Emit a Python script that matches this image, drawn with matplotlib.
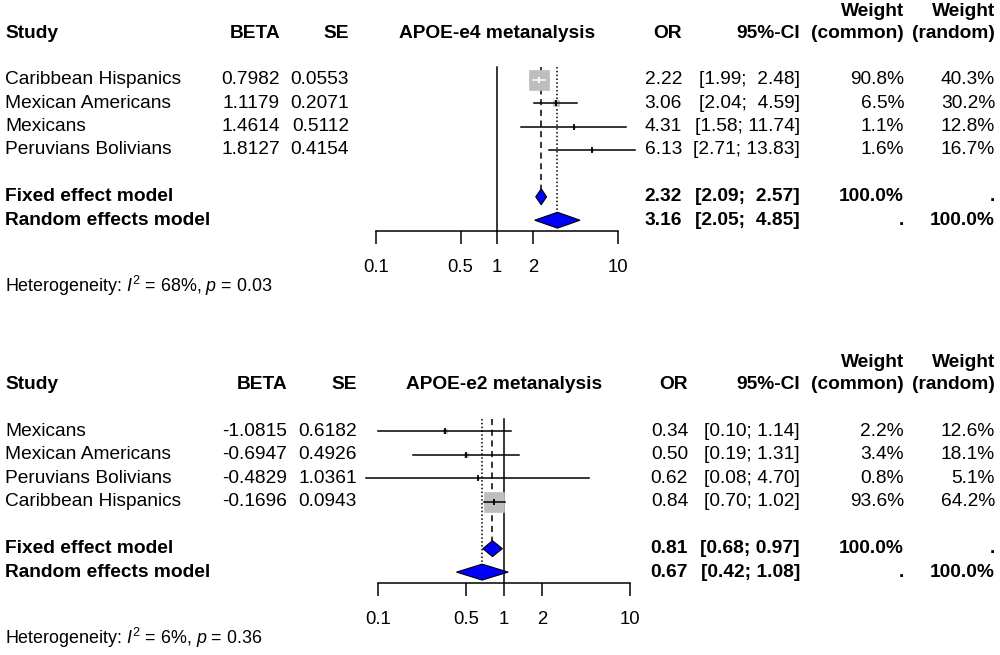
import numpy as np
import matplotlib
matplotlib.use('Agg')
import matplotlib.pyplot as plt
from matplotlib import transforms
from matplotlib.patches import Polygon
from matplotlib.ticker import NullLocator, FixedLocator

plt.rcParams['font.family'] = 'Liberation Sans'
plt.rcParams['mathtext.fontset'] = 'custom'
plt.rcParams['mathtext.rm'] = 'Liberation Sans'
plt.rcParams['mathtext.it'] = 'Liberation Sans:italic'
plt.rcParams['mathtext.bf'] = 'Liberation Sans:bold'

# APOE-e4 panel
e4_studies = ['Caribbean Hispanics', 'Mexican Americans', 'Mexicans', 'Peruvians Bolivians']
e4_beta = [0.7982, 1.1179, 1.4614, 1.8127]
e4_se = [0.0553, 0.2071, 0.5112, 0.4154]
e4_or = [2.22, 3.06, 4.31, 6.13]
e4_lo = [1.99, 2.04, 1.58, 2.71]
e4_hi = [2.48, 4.59, 11.74, 13.83]
e4_wc = [90.8, 6.5, 1.1, 1.6]
e4_wr = [40.3, 30.2, 12.8, 16.7]
e4_fixed = [2.32, 2.09, 2.57]
e4_random = [3.16, 2.05, 4.85]
e4_het = ['68%', '0.03']

# APOE-e2 panel
e2_studies = ['Mexicans', 'Mexican Americans', 'Peruvians Bolivians', 'Caribbean Hispanics']
e2_beta = [-1.0815, -0.6947, -0.4829, -0.1696]
e2_se = [0.6182, 0.4926, 1.0361, 0.0943]
e2_or = [0.34, 0.50, 0.62, 0.84]
e2_lo = [0.10, 0.19, 0.08, 0.70]
e2_hi = [1.14, 1.31, 4.70, 1.02]
e2_wc = [2.2, 3.4, 0.8, 93.6]
e2_wr = [12.6, 18.1, 5.1, 64.2]
e2_fixed = [0.81, 0.68, 0.97]
e2_random = [0.67, 0.42, 1.08]
e2_het = ['6%', '0.36']

ticks = [0.1, 0.5, 1, 2, 10]
tick_labels = ['0.1', '0.5', '1', '2', '10']

W, H = 1000, 655
FS = 13.8      # table text
FS_TICK = 13.3
FS_HET = 12.9
fig = plt.figure(figsize=(W / 100, H / 100), dpi=100)


def ci_strings(lo, hi):
    los = ['%.2f' % v for v in lo]
    his = ['%.2f' % v for v in hi]
    n1 = max(len(s) for s in los)
    n2 = max(len(s) for s in his)
    return ['[%s; %s]' % (a.rjust(n1), b.rjust(n2)) for a, b in zip(los, his)]


def panel(y0, step, x01, x10, col, title, studies, beta, se, ors, lo, hi,
          wc, wr, fixed, rand, het):
    r_top, r_bot = -1.6, 11.6
    bottom = 1 - (y0 + r_bot * step) / H
    top = 1 - (y0 + r_top * step) / H
    ax = fig.add_axes([x01 / W, bottom, (x10 - x01) / W, top - bottom])
    ax.set_xscale('log')
    ax.set_xlim(0.1, 10)
    ax.set_ylim(r_bot, r_top)
    ax.patch.set_visible(False)
    for s in ['left', 'right', 'top']:
        ax.spines[s].set_visible(False)
    ax.set_yticks([])
    ax.spines['bottom'].set_position(('data', 8.45))
    ax.spines['bottom'].set_bounds(0.1, 10)
    ax.spines['bottom'].set_linewidth(1.1)
    ax.xaxis.set_major_locator(FixedLocator(ticks))
    ax.xaxis.set_minor_locator(NullLocator())
    ax.set_xticklabels(tick_labels)
    ax.tick_params(axis='x', length=9.5, width=1.1, pad=11, labelsize=FS_TICK)

    tr = transforms.blended_transform_factory(fig.transFigure, ax.transData)

    def txt(px, row, s, ha='right', bold=False, size=FS):
        ax.text(px / W, row, s, transform=tr, ha=ha, va='center', fontsize=size,
                fontweight='bold' if bold else 'normal')

    # headers
    txt(col['wc'], -0.92, 'Weight', bold=True)
    txt(col['wr'], -0.92, 'Weight', bold=True)
    txt(5, 0, 'Study', ha='left', bold=True)
    txt(col['beta'], 0, 'BETA', bold=True)
    txt(col['se'], 0, 'SE', bold=True)
    ax.text(1, 0, title, ha='center', va='center', fontsize=FS, fontweight='bold')
    txt(col['or'], 0, 'OR', bold=True)
    txt(col['ci'], 0, '95%-CI', bold=True)
    txt(col['wc'], 0, '(common)', bold=True)
    txt(col['wr'], 0, '(random)', bold=True)

    cis = ci_strings(list(lo) + [fixed[1], rand[1]], list(hi) + [fixed[2], rand[2]])
    rows = np.arange(len(studies)) + 2
    for i, r in enumerate(rows):
        txt(5, r, studies[i], ha='left')
        txt(col['beta'], r, '%.4f' % beta[i])
        txt(col['se'], r, '%.4f' % se[i])
        txt(col['or'], r, '%.2f' % ors[i])
        txt(col['ci'], r, cis[i])
        txt(col['wc'], r, '%.1f%%' % wc[i])
        txt(col['wr'], r, '%.1f%%' % wr[i])

    txt(5, 7, 'Fixed effect model', ha='left', bold=True)
    txt(col['or'], 7, '%.2f' % fixed[0], bold=True)
    txt(col['ci'], 7, cis[-2], bold=True)
    txt(col['wc'], 7, '100.0%', bold=True)
    txt(col['wr'], 7, '.', bold=True)
    txt(5, 8, 'Random effects model', ha='left', bold=True)
    txt(col['or'], 8, '%.2f' % rand[0], bold=True)
    txt(col['ci'], 8, cis[-1], bold=True)
    txt(col['wc'], 8, '.', bold=True)
    txt(col['wr'], 8, '100.0%', bold=True)

    txt(5, 10.8, r'Heterogeneity: $I^2$ = %s, $p$ = %s' % (het[0], het[1]),
        ha='left', size=FS_HET)

    # reference and summary lines
    ax.plot([1, 1], [1.47, 8.45], color='black', lw=1.1, zorder=1)
    dh = 0.34
    ax.plot([fixed[0]] * 2, [1.47, 7 - dh], color='black', lw=1.1,
            ls=(0, (4, 3)), zorder=1)
    ax.plot([rand[0]] * 2, [1.47, 8 - dh], color='black', lw=1.1,
            ls=(0, (1, 1.5)), zorder=1)

    # study boxes and CIs
    ppd = (x10 - x01) / 2.0
    wmax = max(wc)
    for i, r in enumerate(rows):
        side = 20 * np.sqrt(wc[i] / wmax)
        ax.plot(ors[i], r, 's', ms=side * 0.72, mfc='#BEBEBE', mec='#BEBEBE',
                mew=0.5, zorder=2, clip_on=False)
        half = side / 2 / ppd
        inside = (np.log10(ors[i]) - half <= np.log10(lo[i])) and \
                 (np.log10(hi[i]) <= np.log10(ors[i]) + half)
        c = 'white' if inside else 'black'
        ax.plot([lo[i], hi[i]], [r, r], color=c, lw=1.1, zorder=3, clip_on=False)
        ax.plot(ors[i], r, '|', ms=4.5, mew=1.3, color=c, zorder=3, clip_on=False)

    # diamonds
    for r, (est, l, h) in zip([7, 8], [fixed, rand]):
        ax.add_patch(Polygon([(l, r), (est, r - dh), (h, r), (est, r + dh)],
                             closed=True, fc='#0000FF', ec='black', lw=0.8,
                             zorder=4))
    return ax


panel(33, 23.4, 376, 618,
      {'beta': 280, 'se': 349, 'or': 682, 'ci': 800, 'wc': 904, 'wr': 995},
      'APOE-e4 metanalysis', e4_studies, e4_beta, e4_se, e4_or, e4_lo, e4_hi,
      e4_wc, e4_wr, e4_fixed, e4_random, e4_het)
panel(384.5, 23.45, 378, 630,
      {'beta': 287, 'se': 357, 'or': 688, 'ci': 800, 'wc': 904, 'wr': 995},
      'APOE-e2 metanalysis', e2_studies, e2_beta, e2_se, e2_or, e2_lo, e2_hi,
      e2_wc, e2_wr, e2_fixed, e2_random, e2_het)

fig.savefig('out.png', dpi=100, facecolor='white')
